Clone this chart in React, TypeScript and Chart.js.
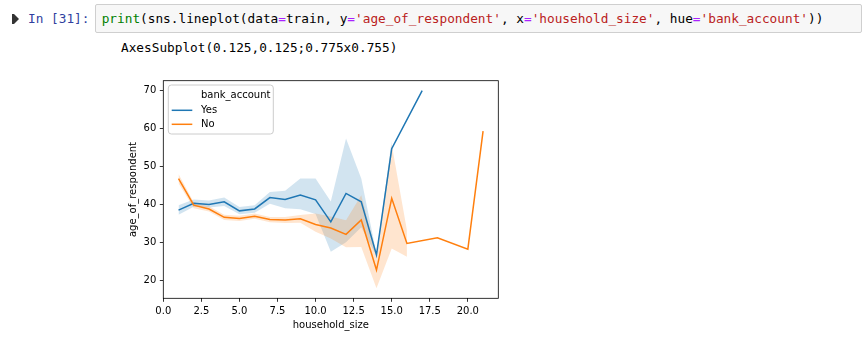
import React, { useEffect, useRef } from "react";
import { Chart, registerables } from "chart.js";

Chart.register(...registerables);

// ---- data ----
const yesX = [1, 2, 3, 4, 5, 6, 7, 8, 9, 10, 11, 12, 13, 14, 15, 17];
const yesMean = [38.5, 40.3, 40.0, 40.7, 38.3, 38.8, 41.8, 41.3, 42.5, 41.2, 35.4, 42.9, 40.7, 26.7, 54.7, 70.0];
const yesBandX = [1, 2, 3, 4, 5, 6, 7, 8, 9, 10, 11, 12, 13, 14, 15];
const yesLower = [37.3, 39.4, 39.2, 39.6, 37.4, 37.8, 40.2, 39.0, 38.7, 37.5, 27.5, 30.0, 34.0, 26.4, 53.5];
const yesUpper = [39.8, 41.3, 41.0, 41.8, 39.3, 39.8, 43.3, 43.6, 46.8, 46.8, 40.8, 57.4, 46.8, 27.0, 56.9];

const noX = [1, 2, 3, 4, 5, 6, 7, 8, 9, 10, 11, 12, 13, 14, 15, 16, 18, 20, 21];
const noMean = [46.8, 39.8, 38.8, 36.6, 36.3, 36.9, 36.0, 35.9, 36.2, 34.7, 33.8, 32.1, 35.9, 22.7, 41.6, 29.7, 31.2, 28.2, 59.3];
const noBandX = [1, 2, 3, 4, 5, 6, 7, 8, 9, 10, 11, 12, 13, 14, 15, 16];
const noLower = [45.6, 39.0, 38.1, 35.9, 35.6, 36.2, 35.3, 35.1, 35.2, 32.8, 31.0, 28.7, 28.8, 17.9, 28.4, 26.2];
const noUpper = [48.0, 40.6, 39.5, 37.3, 37.0, 37.6, 36.7, 36.7, 37.2, 37.6, 36.8, 35.8, 42.4, 27.0, 55.8, 33.2];

const xTicks = [0, 2.5, 5, 7.5, 10, 12.5, 15, 17.5, 20];
const yTicks = [20, 30, 40, 50, 60, 70];
const xTitle = "household_size";
const yTitle = "age_of_respondent";
const legendTitle = "bank_account";
const seriesNames = ["Yes", "No"];

const BLUE = "#1f77b4";
const ORANGE = "#ff7f0e";
const FONT = "DejaVu Sans";

const zip = (xs: number[], ys: number[]) => xs.map((x, i) => ({ x, y: ys[i] }));

const framePlugin = {
  id: "frame",
  afterDatasetsDraw(chart: any) {
    const { ctx, chartArea: a } = chart;
    ctx.save();
    ctx.strokeStyle = "#000";
    ctx.lineWidth = 0.8;
    ctx.strokeRect(a.left, a.top, a.right - a.left, a.bottom - a.top);
    ctx.restore();
  },
};

const legendPlugin = {
  id: "mplLegend",
  afterDraw(chart: any) {
    const { ctx, chartArea: a } = chart;
    const bx = a.left + 5;
    const by = a.top + 4.3;
    const bw = 105;
    const bh = 49;
    const r = 3;
    ctx.save();
    ctx.beginPath();
    ctx.moveTo(bx + r, by);
    ctx.lineTo(bx + bw - r, by);
    ctx.quadraticCurveTo(bx + bw, by, bx + bw, by + r);
    ctx.lineTo(bx + bw, by + bh - r);
    ctx.quadraticCurveTo(bx + bw, by + bh, bx + bw - r, by + bh);
    ctx.lineTo(bx + r, by + bh);
    ctx.quadraticCurveTo(bx, by + bh, bx, by + bh - r);
    ctx.lineTo(bx, by + r);
    ctx.quadraticCurveTo(bx, by, bx + r, by);
    ctx.closePath();
    ctx.fillStyle = "rgba(255,255,255,0.8)";
    ctx.fill();
    ctx.strokeStyle = "#cccccc";
    ctx.lineWidth = 1;
    ctx.stroke();

    ctx.font = `10px '${FONT}'`;
    ctx.fillStyle = "#000";
    ctx.textBaseline = "middle";
    ctx.textAlign = "left";
    const tx = a.left + 37.7;
    const rows = [a.top + 14.3, a.top + 29.6, a.top + 43.6];
    ctx.fillText(legendTitle, tx, rows[0]);
    const colors = [BLUE, ORANGE];
    seriesNames.forEach((name, i) => {
      const y = rows[i + 1];
      ctx.beginPath();
      ctx.moveTo(a.left + 8.4, y);
      ctx.lineTo(a.left + 29, y);
      ctx.strokeStyle = colors[i];
      ctx.lineWidth = 1.5;
      ctx.stroke();
      ctx.fillText(name, tx, y);
    });
    ctx.restore();
  },
};

function ChartView() {
  const ref = useRef<HTMLCanvasElement | null>(null);
  useEffect(() => {
    if (!ref.current) return;
    const bandCommon = {
      borderWidth: 0,
      borderColor: "rgba(0,0,0,0)",
      pointRadius: 0,
      tension: 0,
    };
    const chart = new Chart(ref.current, {
      type: "line",
      data: {
        datasets: [
          {
            label: "No",
            data: zip(noX, noMean),
            borderColor: ORANGE,
            borderWidth: 1.5,
            pointRadius: 0,
            fill: false,
            tension: 0,
          },
          {
            label: "Yes",
            data: zip(yesX, yesMean),
            borderColor: BLUE,
            borderWidth: 1.5,
            pointRadius: 0,
            fill: false,
            tension: 0,
          },
          {
            ...bandCommon,
            label: "No upper",
            data: zip(noBandX, noUpper),
            fill: "+1",
            backgroundColor: "rgba(255,127,14,0.2)",
          },
          {
            ...bandCommon,
            label: "No lower",
            data: zip(noBandX, noLower),
            fill: false,
          },
          {
            ...bandCommon,
            label: "Yes upper",
            data: zip(yesBandX, yesUpper),
            fill: "+1",
            backgroundColor: "rgba(31,119,180,0.2)",
          },
          {
            ...bandCommon,
            label: "Yes lower",
            data: zip(yesBandX, yesLower),
            fill: false,
          },
        ],
      },
      options: {
        animation: false,
        responsive: false,
        maintainAspectRatio: false,
        events: [],
        layout: { padding: { left: 0, top: 10.7, right: 21.7, bottom: 0 } },
        plugins: {
          legend: { display: false },
          tooltip: { enabled: false },
          filler: { drawTime: "beforeDatasetsDraw" },
        },
        scales: {
          x: {
            type: "linear",
            min: 0,
            max: 22,
            afterBuildTicks: (axis: any) => {
              axis.ticks = xTicks.map((v) => ({ value: v }));
            },
            afterFit: (s: any) => {
              s.height = 41.7;
            },
            ticks: {
              callback: (v: any) => Number(v).toFixed(1),
              color: "#000",
              font: { family: FONT, size: 10 },
              padding: 3.5,
              maxRotation: 0,
              autoSkip: false,
            },
            grid: {
              display: true,
              drawOnChartArea: false,
              drawTicks: true,
              tickLength: 3.5,
              color: "#000",
              lineWidth: 0.8,
            },
            border: { display: false },
            title: {
              display: true,
              text: xTitle,
              color: "#000",
              font: { family: FONT, size: 10 },
              padding: { top: 0, bottom: 9 },
            },
          },
          y: {
            type: "linear",
            min: 15.26,
            max: 72.6,
            afterBuildTicks: (axis: any) => {
              axis.ticks = yTicks.map((v) => ({ value: v }));
            },
            afterFit: (s: any) => {
              s.width = 63.3;
            },
            ticks: {
              callback: (v: any) => String(v),
              color: "#000",
              font: { family: FONT, size: 10 },
              padding: 3.5,
              autoSkip: false,
            },
            grid: {
              display: true,
              drawOnChartArea: false,
              drawTicks: true,
              tickLength: 3.5,
              color: "#000",
              lineWidth: 0.8,
            },
            border: { display: false },
            title: {
              display: true,
              text: yTitle,
              color: "#000",
              font: { family: FONT, size: 10 },
              padding: { top: 27, bottom: 0 },
            },
          },
        },
      },
      plugins: [framePlugin, legendPlugin],
    } as any);
    return () => chart.destroy();
  }, []);
  return (
    <canvas
      ref={ref}
      width={420}
      height={270}
      style={{ position: "absolute", left: 100, top: 70, width: 420, height: 270 }}
    />
  );
}

const MONO = "'DejaVu Sans Mono', monospace";
const OP = "#AA22FF";
const STR = "#BA2121";

export default function App() {
  return (
    <div
      style={{
        position: "fixed",
        left: 0,
        top: 0,
        width: 863,
        height: 340,
        background: "#fff",
        overflow: "hidden",
      }}
    >
      <div style={{ position: "absolute", left: 12, top: 14, width: 2, height: 10, background: "#333" }} />
      <div
        style={{
          position: "absolute",
          left: 14,
          top: 14,
          width: 0,
          height: 0,
          borderTop: "5px solid transparent",
          borderBottom: "5px solid transparent",
          borderLeft: "5px solid #333",
        }}
      />
      <div
        style={{
          position: "absolute",
          left: 28,
          top: 10,
          height: 18,
          lineHeight: "18px",
          fontFamily: MONO,
          fontSize: 12.75,
          color: "#303F9F",
          whiteSpace: "pre",
        }}
      >
        In [31]:
      </div>
      <div
        style={{
          position: "absolute",
          left: 95,
          top: 4,
          width: 765,
          height: 27,
          border: "1px solid #cfcfcf",
          borderRadius: 2,
          background: "#f7f7f7",
        }}
      />
      <div
        style={{
          position: "absolute",
          left: 101.7,
          top: 10,
          height: 18,
          lineHeight: "18px",
          fontFamily: MONO,
          fontSize: 12.75,
          color: "#000",
          whiteSpace: "pre",
        }}
      >
        <span style={{ color: "#008000" }}>print</span>
        (sns.lineplot(data<span style={{ color: OP }}>=</span>train, y<span style={{ color: OP }}>=</span>
        <span style={{ color: STR }}>'age_of_respondent'</span>, x<span style={{ color: OP }}>=</span>
        <span style={{ color: STR }}>'household_size'</span>, hue<span style={{ color: OP }}>=</span>
        <span style={{ color: STR }}>'bank_account'</span>))
      </div>
      <div
        style={{
          position: "absolute",
          left: 121,
          top: 39,
          height: 18,
          lineHeight: "18px",
          fontFamily: MONO,
          fontSize: 12.75,
          color: "#000",
          whiteSpace: "pre",
        }}
      >
        AxesSubplot(0.125,0.125;0.775x0.755)
      </div>
      <ChartView />
    </div>
  );
}
